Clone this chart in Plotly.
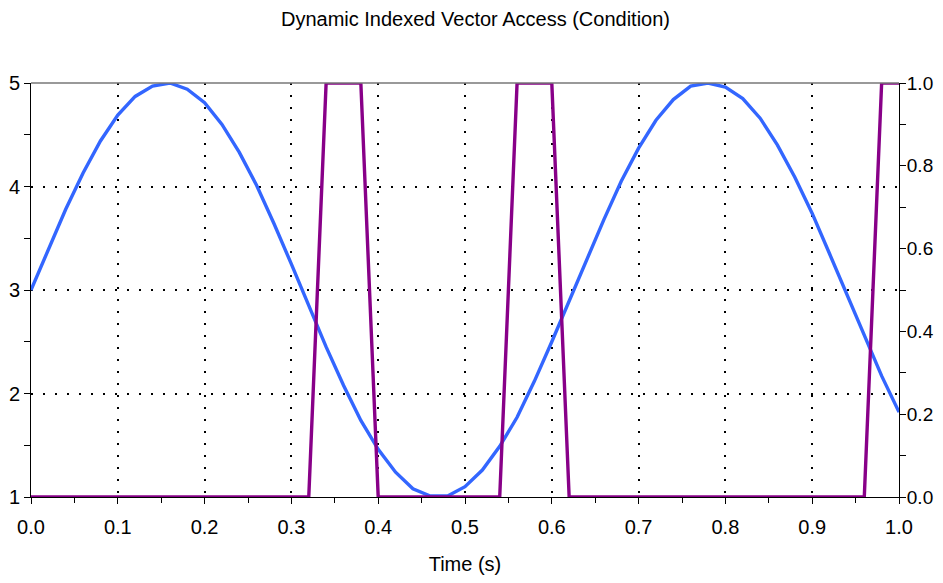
import plotly.graph_objects as go

# Zeitachse (s), Abtastung alle 0.02 s
zeit = [round(i * 0.02, 2) for i in range(51)]

# Signal (linke Achse)
signal = [3.00, 3.40, 3.78, 4.13, 4.44, 4.69, 4.87, 4.97, 5.00, 4.94,
          4.81, 4.60, 4.33, 4.01, 3.64, 3.25, 2.85, 2.45, 2.08, 1.74,
          1.46, 1.24, 1.08, 1.01, 1.01, 1.10, 1.26, 1.49, 1.77, 2.12,
          2.50, 2.90, 3.30, 3.68, 4.05, 4.37, 4.64, 4.84, 4.97, 5.00,
          4.96, 4.85, 4.66, 4.40, 4.09, 3.74, 3.35, 2.95, 2.55, 2.17,
          1.82]

# Bedingung (rechte Achse, 0/1)
bedingung = [0, 0, 0, 0, 0, 0, 0, 0, 0, 0,
             0, 0, 0, 0, 0, 0, 0, 1, 1, 1,
             0, 0, 0, 0, 0, 0, 0, 0, 1, 1,
             1, 0, 0, 0, 0, 0, 0, 0, 0, 0,
             0, 0, 0, 0, 0, 0, 0, 0, 0, 1,
             1]

schrift = "Liberation Sans, Arial, sans-serif"
punkte = "2px,10px"

fig = go.Figure()
fig.add_trace(go.Scatter(x=zeit, y=signal, mode="lines",
                         line=dict(color="#3366ff", width=3.4), yaxis="y"))
fig.add_trace(go.Scatter(x=zeit, y=bedingung, mode="lines",
                         line=dict(color="#880088", width=3.4), yaxis="y2"))

# Seite hat 8px Rand -> Figur etwas kleiner, damit nichts scrollt
fig.update_layout(
    width=935, height=567,
    margin=dict(l=23, r=44, t=75, b=78),
    paper_bgcolor="white", plot_bgcolor="white",
    showlegend=False,
    font=dict(family=schrift, color="black", size=20),
    title=dict(text="Dynamic Indexed Vector Access (Condition)", x=0.5, xanchor="center",
               y=1 - 11 / 567, yanchor="middle", font=dict(size=20)),
    xaxis=dict(range=[0, 1], dtick=0.1, tickformat=".1f", showline=True, linecolor="black",
               linewidth=1, ticks="outside", ticklen=6, tickcolor="black", automargin=False,
               ticklabelstandoff=6,
               showgrid=True, gridcolor="black", gridwidth=2, griddash=punkte,
               minor=dict(dtick=0.05, ticks="outside", ticklen=5, tickcolor="black", showgrid=False),
               zeroline=False, title=dict(text="Time (s)", font=dict(size=20), standoff=22)),
    yaxis=dict(range=[1, 5], dtick=1, showline=True, linecolor="black", linewidth=1,
               ticks="outside", ticklen=6, tickcolor="black", automargin=False,
               showgrid=True, gridcolor="black", gridwidth=2, griddash=punkte,
               minor=dict(dtick=0.5, ticks="outside", ticklen=6, tickcolor="black", showgrid=False),
               zeroline=False),
    yaxis2=dict(range=[0, 1], dtick=0.2, tickformat=".1f", overlaying="y", side="right",
                showline=True, linecolor="black", linewidth=1, automargin=False,
                ticks="outside", ticklen=6, tickcolor="black", showgrid=False,
                ticklabelstandoff=-3, tickfont=dict(size=19),
                minor=dict(dtick=0.1, ticks="outside", ticklen=6, tickcolor="black"),
                zeroline=False),
    shapes=[dict(type="line", xref="paper", yref="paper", x0=0, x1=1, y0=1, y1=1,
                 line=dict(color="#777777", width=1.5))],
)

fig.write_html("out.html")
